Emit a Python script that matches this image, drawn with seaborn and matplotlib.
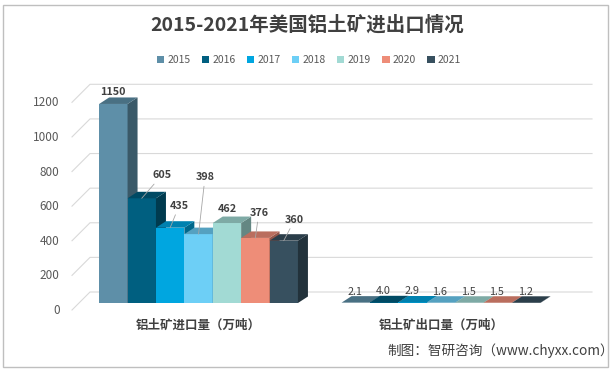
import matplotlib
matplotlib.use("Agg")
import numpy as np
import pandas as pd
import seaborn as sns
import matplotlib.pyplot as plt
from matplotlib.patches import Polygon, Rectangle
from matplotlib.colors import to_rgb
from matplotlib.transforms import ScaledTranslation

# ---- data ----
categories = ["铝土矿进口量（万吨）", "铝土矿出口量（万吨）"]
years = ["2015", "2016", "2017", "2018", "2019", "2020", "2021"]
import_vals = [1150, 605, 435, 398, 462, 376, 360]
export_vals = [2.1, 4.0, 2.9, 1.6, 1.5, 1.5, 1.2]
colors = ["#5E8FA8", "#005F80", "#00A6E0", "#6DCFF6", "#A2DAD4", "#EE8D78", "#37505F"]
yticks = [0, 200, 400, 600, 800, 1000, 1200]

df = pd.DataFrame({
    "类别": [categories[0]] * 7 + [categories[1]] * 7,
    "年份": years + years,
    "数值": import_vals + export_vals,
})

plt.rcParams["font.family"] = ["Noto Sans CJK SC", "DejaVu Sans"]
plt.rcParams["axes.unicode_minus"] = False

W, H = 614, 372
fig = plt.figure(figsize=(W / 100, H / 100), dpi=100)
ax = fig.add_axes([72 / W, 69 / H, 520 / W, 225 / H])

sns.barplot(data=df, x="类别", y="数值", hue="年份", palette=colors,
            width=0.82, saturation=1, linewidth=0, ax=ax)

ax.set_xlim(-0.522, 1.623)
ax.set_ylim(0, 1300)
for s in ax.spines.values():
    s.set_visible(False)
ax.set_xlabel("")
ax.set_ylabel("")

# pixel -> data helpers
def px2data(dx, dy, x0=0.0, y0=0.0):
    d = ax.transData.transform((x0, y0))
    return ax.transData.inverted().transform((d[0] + dx, d[1] + dy))

# ---- back-wall gridlines (pseudo 3D) ----
xl, xr = ax.get_xlim()
for t in yticks:
    p_front = px2data(0, -7, xl, t)
    p_back = px2data(18, 11, xl, t)
    ax.plot([p_front[0], p_back[0], xr], [p_front[1], p_back[1], p_back[1]],
            color="#D9D9D9", lw=0.8, zorder=1, clip_on=False)

# ---- 3D faces for bars ----
o = px2data(0, 0)
dpt = px2data(10, 6.5)
ddx, ddy = dpt[0] - o[0], dpt[1] - o[1]
for i, cont in enumerate(ax.containers):
    base = np.array(to_rgb(colors[i]))
    for bar in cont:
        bar.set_zorder(3 + i)
        x, w, h = bar.get_x(), bar.get_width(), bar.get_height()
        top = Polygon([(x, h), (x + w, h), (x + w + ddx, h + ddy), (x + ddx, h + ddy)],
                      closed=True, fc=base * 0.78, ec="none", zorder=3 + i)
        side = Polygon([(x + w, 0), (x + w, h), (x + w + ddx, h + ddy), (x + w + ddx, ddy)],
                       closed=True, fc=base * 0.62, ec="none", zorder=3 + i)
        ax.add_patch(side)
        ax.add_patch(top)

# ---- value labels ----
# offsets in pixels (dx, dy) from the front top centre of each import bar, leader flag
imp_offsets = [(0, 12, False), (20, 23, True), (9, 22, True), (6.5, 57, True),
               (0, 14, False), (3.5, 25, True), (11, 21, True)]
for i, cont in enumerate(ax.containers):
    b_imp, b_exp = cont[0], cont[1]
    dx, dy, lead = imp_offsets[i]
    ax.annotate(f"{import_vals[i]:.0f}",
                xy=(b_imp.get_x() + b_imp.get_width() / 2, b_imp.get_height()),
                xytext=(dx * 0.72, dy * 0.72), textcoords="offset points",
                ha="center", va="center", fontsize=7.8, fontweight="bold",
                color="#404040", zorder=20,
                arrowprops=dict(arrowstyle="-", color="#A6A6A6", lw=0.6,
                                shrinkA=1, shrinkB=0) if lead else None)
    ax.annotate(f"{export_vals[i]:.1f}",
                xy=(b_exp.get_x() + b_exp.get_width() / 2, b_exp.get_height()),
                xytext=(-1 * 0.72, 11 * 0.72), textcoords="offset points",
                ha="center", va="center", fontsize=7.8, color="#404040", zorder=20)

# ---- ticks ----
ax.set_yticks(yticks)
ax.tick_params(axis="y", length=0, pad=9, labelsize=8.5, labelcolor="#595959")
for lab in ax.get_yticklabels():
    lab.set_transform(lab.get_transform() + ScaledTranslation(0, -0.06, fig.dpi_scale_trans))
ax.tick_params(axis="x", length=0, pad=11, labelsize=9, labelcolor="#404040")
for lab in ax.get_xticklabels():
    lab.set_fontweight("bold")

# ---- legend ----
sns.move_legend(ax, "center", bbox_to_anchor=(309 / W, 1 - 60 / H),
                bbox_transform=fig.transFigure, ncol=7, frameon=False, title=None,
                fontsize=7.5, handlelength=0.7, handleheight=0.7,
                handletextpad=0.3, columnspacing=1.1, labelcolor="#595959")

# ---- title, source, border ----
fig.text(0.5, 1 - 25 / H, "2015-2021年美国铝土矿进出口情况", ha="center", va="center",
         fontsize=14, fontweight="bold", color="#404040")
fig.text(614 / W, 1 - 351 / H, "制图：智研咨询（www.chyxx.com）", ha="right", va="center",
         fontsize=9.8, color="#404040")
fig.patches.append(Rectangle((3 / W, 5 / H), 605 / W, 362 / H, transform=fig.transFigure,
                             fill=False, ec="#BFBFBF", lw=1))

fig.savefig("out.png", dpi=100)
